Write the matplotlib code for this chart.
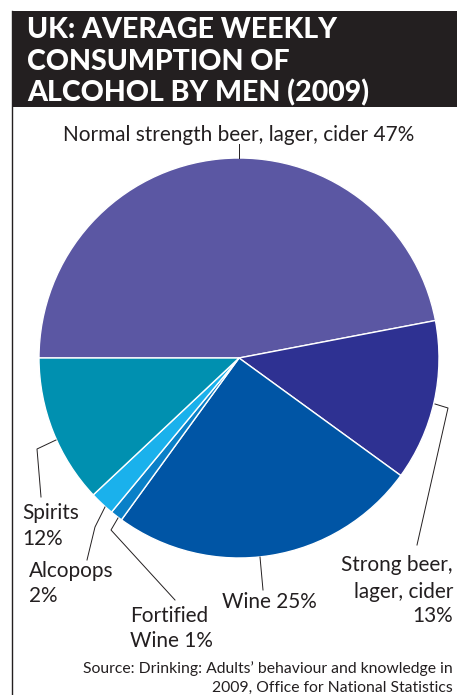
import matplotlib
matplotlib.use('Agg')
import matplotlib.pyplot as plt
from matplotlib.patches import Rectangle
from matplotlib.lines import Line2D

# ---- data ----
categories = ["Normal strength beer, lager, cider", "Strong beer, lager, cider", "Wine",
              "Fortified Wine", "Alcopops", "Spirits"]
shares = [47, 13, 25, 1, 2, 12]
label_lines = [["Normal strength beer, lager, cider 47%"],
               ["Strong beer,", "lager, cider", "13%"],
               ["Wine 25%"],
               ["Fortified", "Wine 1%"],
               ["Alcopops", "2%"],
               ["Spirits", "12%"]]
title_lines = ["UK: AVERAGE WEEKLY", "CONSUMPTION OF", "ALCOHOL BY MEN (2009)"]
source_lines = ["Source: Drinking: Adults\u2019 behaviour and knowledge in",
                "2009, Office for National Statistics"]

# ---- style ----
colors = ['#5b57a3', '#2e3192', '#0055a5', '#0a80c8', '#1ab1ec', '#0090b0']
ink = '#231f20'
W, H = 457, 695
fig = plt.figure(figsize=(W / 100, H / 100), dpi=100)
fig.patch.set_facecolor('white')


def P(x, y):
    return (x / W, 1 - y / H)


renderer = fig.canvas.get_renderer()


def fit_size(text, family, weight, target_w, base=12.0):
    t = fig.text(0, 0, text, fontsize=base, family=family, fontweight=weight)
    w = t.get_window_extent(renderer=renderer).width
    t.remove()
    return base * target_w / w


# title block
fig.patches.append(Rectangle(P(12, 107), 445 / W, 96 / H, transform=fig.transFigure,
                             facecolor=ink, edgecolor='none', zorder=0))
fig.add_artist(Line2D([12 / W, 12 / W], [1 - 11 / H, 0], transform=fig.transFigure,
                      color=ink, lw=1.0))

tfam = ['Lato', 'DejaVu Sans']
tsize = fit_size(title_lines[0], tfam, 'black', 310)
for line, yb in zip(title_lines, [38, 70, 101]):
    fig.text(*P(27, yb), line, color='white', fontsize=tsize, family=tfam,
             fontweight='black', va='baseline', ha='left')

# pie
cx, cy, r = 239, 358, 200
ax = fig.add_axes([(cx - r) / W, (H - cy - r) / H, 2 * r / W, 2 * r / H])
ax.pie(shares, colors=colors, startangle=180, counterclock=False,
       wedgeprops=dict(edgecolor='white', linewidth=1.0))
ax.set_xlim(-1, 1)
ax.set_ylim(-1, 1)
ax.axis('off')

# labels
lfam = ['Lato', 'DejaVu Sans']
lsize = fit_size(label_lines[0][0], lfam, 'normal', 350)
label_pos = [  # (x, ha, baselines)
    (239, 'center', [141]),
    (453, 'right', [571, 598, 622]),
    (222, 'left', [608]),
    (130, 'left', [622, 647]),
    (29, 'left', [577, 602]),
    (22, 'left', [519, 545]),
]
for lines, (x, ha, ybs) in zip(label_lines, label_pos):
    for line, yb in zip(lines, ybs):
        fig.text(*P(x, yb), line, color=ink, fontsize=lsize, family=lfam,
                 va='baseline', ha=ha)

# leader lines
leaders = [
    [(239, 144), (239, 158)],
    [(435, 404), (448, 408), (417, 545)],
    [(260, 557), (263, 590)],
    [(118, 518), (111, 530), (175, 600)],
    [(105, 507), (95, 527), (87, 560)],
    [(56, 440), (37, 449), (41, 497)],
]
for pts in leaders:
    xs = [p[0] / W for p in pts]
    ys = [1 - p[1] / H for p in pts]
    fig.add_artist(Line2D(xs, ys, transform=fig.transFigure, color=ink, lw=0.7))

# source
ssize = fit_size(source_lines[0], lfam, 'normal', 367)
for line, yb in zip(source_lines, [673, 692]):
    fig.text(*P(453, yb), line, color=ink, fontsize=ssize, family=lfam,
             va='baseline', ha='right')

fig.savefig('out.png', dpi=100, facecolor='white')
